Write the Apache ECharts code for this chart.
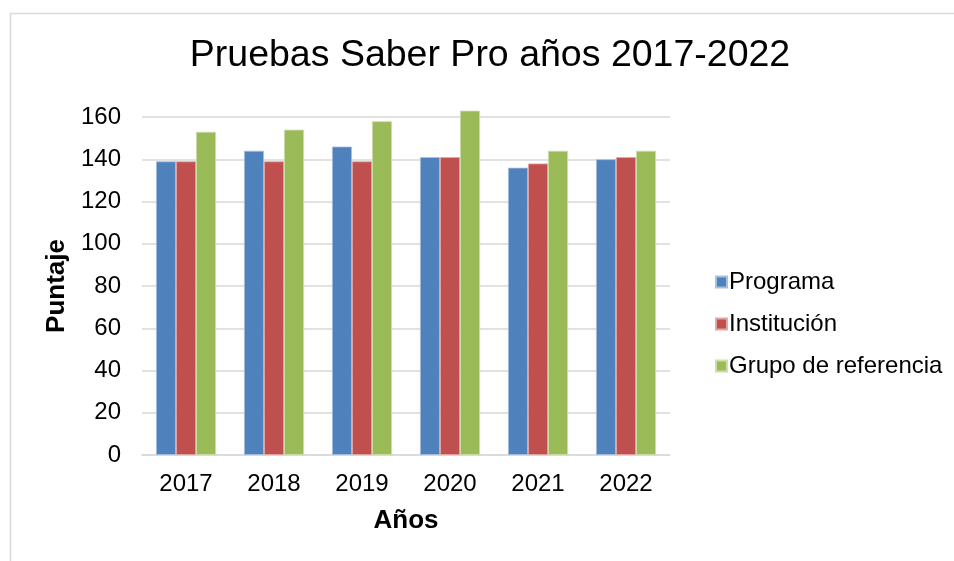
<!DOCTYPE html>
<html>
<head>
<meta charset="utf-8">
<script src="https://cdn.jsdelivr.net/npm/echarts@6/dist/echarts.min.js"></script>
<style>html,body{margin:0;padding:0;background:#fff}#c{width:954px;height:561px}</style>
</head>
<body>
<div id="c"></div>
<script>
const categories = ['2017', '2018', '2019', '2020', '2021', '2022'];
const programa = [139, 144, 146, 141, 136, 140];
const institucion = [139, 139, 139, 141, 138, 141];
const grupoReferencia = [153, 154, 158, 163, 144, 144];
const seriesNames = ['Programa', 'Institución', 'Grupo de referencia'];
const colors = ['#4F81BD', '#C0504D', '#9BBB59'];
const borders = ['#A7C0DE', '#E0A8A6', '#CDDDAC'];

const FONT = '"Liberation Sans", Arial, sans-serif';
const chart = echarts.init(document.getElementById('c'));
const values = [programa, institucion, grupoReferencia];
chart.setOption({
  animation: false,
  backgroundColor: '#fff',
  graphic: [{
    type: 'rect', left: 8, top: 11, shape: {width: 1000, height: 600},
    style: {fill: 'none', stroke: '#D9D9D9', lineWidth: 1.5}, silent: true, z: -1
  }],
  title: {
    text: 'Pruebas Saber Pro años 2017-2022',
    left: 485, top: 32, textAlign: 'center',
    textStyle: {fontFamily: FONT, fontSize: 37.5, fontWeight: 'normal', color: '#000'}
  },
  legend: {
    orient: 'vertical', left: 710, top: 265,
    itemWidth: 11, itemHeight: 11, itemGap: 18,
    icon: 'rect',
    textStyle: {fontFamily: FONT, fontSize: 24, color: '#000', padding: [0, 0, 0, -3]},
    data: seriesNames
  },
  grid: {left: 142, right: 284, top: 117, bottom: 106, containLabel: false},
  xAxis: {
    type: 'category', data: categories,
    name: 'Años', nameLocation: 'middle', nameGap: 53,
    nameTextStyle: {fontFamily: FONT, fontSize: 26, fontWeight: 'bold', color: '#000'},
    axisLine: {lineStyle: {color: '#D9D9D9', width: 1.5}},
    axisTick: {show: false},
    axisLabel: {fontFamily: FONT, fontSize: 24, color: '#000', margin: 17}
  },
  yAxis: {
    type: 'value', min: 0, max: 160, interval: 20,
    name: 'Puntaje', nameLocation: 'middle', nameGap: 70,
    nameTextStyle: {fontFamily: FONT, fontSize: 26, fontWeight: 'bold', color: '#000'},
    axisLine: {show: false}, axisTick: {show: false},
    axisLabel: {fontFamily: FONT, fontSize: 24, color: '#000', margin: 21},
    splitLine: {lineStyle: {color: '#D9D9D9', width: 1.5}}
  },
  series: seriesNames.map((n, i) => ({
    name: n, type: 'bar', data: values[i],
    barWidth: 20, barGap: '0%', clip: false,
    itemStyle: {color: colors[i], borderColor: borders[i], borderWidth: 0.8}
  }))
});
</script>
</body>
</html>
